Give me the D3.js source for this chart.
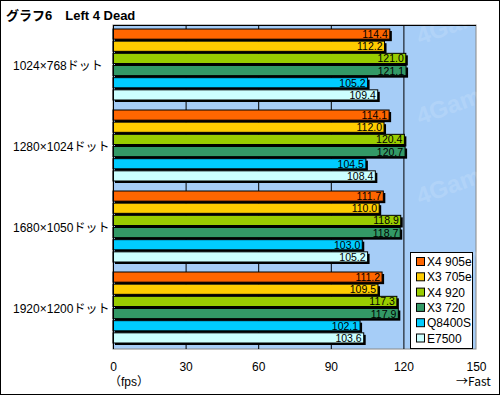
<!DOCTYPE html>
<html lang="ja">
<head>
<meta charset="UTF-8">
<title>グラフ6 Left 4 Dead</title>
<script src="https://d3js.org/d3.v7.min.js"></script>
<style>
  body { margin: 0; background: #fff; }
  svg text { font-family: "Liberation Sans", Arial, sans-serif; }
  svg text.jp { font-family: "Liberation Sans", "Noto Sans CJK JP", sans-serif; }
  svg text.cjk { font-family: "Noto Sans CJK JP", sans-serif; }
</style>
</head>
<body>
<div id="chart"></div>
<script>
// chart data
var resolutions = ["1024×768ドット", "1280×1024ドット", "1680×1050ドット", "1920×1200ドット"];
var cpus = ["X4 905e", "X3 705e", "X4 920", "X3 720", "Q8400S", "E7500"];
var colors = ["#ff6600", "#ffcc00", "#99cc00", "#339966", "#00ccff", "#ccffff"];
var fps = [
  [114.4, 112.2, 121.0, 121.1, 105.2, 109.4],
  [114.1, 112.0, 120.4, 120.7, 104.5, 108.4],
  [111.7, 110.0, 118.9, 118.7, 103.0, 105.2],
  [111.2, 109.5, 117.3, 117.9, 102.1, 103.6]
];
var xTicks = [0, 30, 60, 90, 120, 150];

var W = 500, H = 397;
// plot edges (not named "top", that one is window.top)
var pL = 113, pR = 476, pT = 25, pB = 349;

var svg = d3.select("#chart").append("svg")
  .attr("width", W)
  .attr("height", H);

// white background + outer frame
svg.append("rect")
  .attr("x", 0.5).attr("y", 0.5)
  .attr("width", W - 1).attr("height", H - 3)
  .attr("fill", "#fff").attr("stroke", "#000");

// title
svg.append("text")
  .attr("class", "jp")
  .attr("x", 6).attr("y", 20)
  .attr("font-size", 13).attr("font-weight", "bold")
  .text("グラフ6　Left 4 Dead");

var x = d3.scaleLinear().domain([0, 150]).range([pL, pR]);
var yGroup = d3.scaleBand().domain(resolutions).range([pT, pB]);

// plot background
svg.append("rect")
  .attr("x", pL).attr("y", pT)
  .attr("width", pR - pL).attr("height", pB - pT)
  .attr("fill", "#a6cdf7")
  .attr("stroke", "#888");

// faint watermark
var wm = svg.append("g").attr("opacity", 0.13);
[45, 125, 205, 285].forEach(function(yy) {
  wm.append("text")
    .attr("x", 420).attr("y", yy)
    .attr("font-size", 24).attr("font-weight", "bold")
    .attr("fill", "#ffffff")
    .attr("transform", "rotate(-20,420," + yy + ")")
    .text("4Gam");
});

// grid lines (behind bars)
svg.append("g").selectAll("line")
  .data(xTicks.slice(1, 5))
  .enter().append("line")
  .attr("x1", function(d) { return x(d) + 0.5; })
  .attr("x2", function(d) { return x(d) + 0.5; })
  .attr("y1", pT).attr("y2", pB)
  .attr("stroke", "#000");

// top line of plot
svg.append("line")
  .attr("x1", pL).attr("x2", pR)
  .attr("y1", pT + 0.5).attr("y2", pT + 0.5)
  .attr("stroke", "#000");

// bars
var groups = svg.selectAll("g.grp")
  .data(fps)
  .enter().append("g")
  .attr("class", "grp")
  .attr("transform", function(d, i) { return "translate(0," + yGroup(resolutions[i]) + ")"; });

var yBar = d3.scaleBand().domain(d3.range(cpus.length)).range([4, 77]);
var bh = yBar.bandwidth() - 2;

// shadows
groups.selectAll("rect.shadow")
  .data(function(d) { return d; })
  .enter().append("rect")
  .attr("class", "shadow")
  .attr("x", pL + 2)
  .attr("y", function(d, i) { return yBar(i) + 2; })
  .attr("width", function(d) { return x(d) - pL; })
  .attr("height", bh)
  .attr("fill", "#000");

groups.selectAll("rect.bar")
  .data(function(d) { return d; })
  .enter().append("rect")
  .attr("class", "bar")
  .attr("x", pL)
  .attr("y", function(d, i) { return yBar(i); })
  .attr("width", function(d) { return x(d) - pL; })
  .attr("height", bh)
  .attr("fill", function(d, i) { return colors[i]; })
  .attr("stroke", "#000")
  .attr("stroke-width", 1);

groups.selectAll("text.val")
  .data(function(d) { return d; })
  .enter().append("text")
  .attr("class", "val")
  .attr("x", function(d) { return x(d) - 2; })
  .attr("y", function(d, i) { return yBar(i) + bh / 2 + 4; })
  .attr("text-anchor", "end")
  .attr("font-size", 10.5)
  .text(function(d) { return d.toFixed(1); });

// left axis line
svg.append("line")
  .attr("x1", pL + 0.5).attr("x2", pL + 0.5)
  .attr("y1", pT).attr("y2", pB)
  .attr("stroke", "#000");

// category labels
svg.append("g").selectAll("text")
  .data(resolutions)
  .enter().append("text")
  .attr("class", "jp")
  .attr("x", 13)
  .attr("y", function(d) { return yGroup(d) + yGroup.bandwidth() / 2 + 4; })
  .attr("font-size", 12)
  .text(function(d) { return d; });

// x tick labels
var xAxis = d3.axisBottom(x).tickValues(xTicks).tickSize(0).tickPadding(0);
var gx = svg.append("g")
  .attr("transform", "translate(0,362)")
  .call(xAxis);
gx.select(".domain").remove();
gx.selectAll("text")
  .attr("font-family", "Liberation Sans, Arial, sans-serif")
  .attr("font-size", 12)
  .attr("fill", "#000");

svg.append("text")
  .attr("class", "jp")
  .attr("x", 129).attr("y", 386)
  .attr("text-anchor", "middle")
  .attr("font-size", 12)
  .text("（fps）");

svg.append("text")
  .attr("class", "cjk")
  .attr("x", 456).attr("y", 386)
  .attr("font-size", 12)
  .text("→Fast");

// legend
var lg = svg.append("g").attr("transform", "translate(410,252)");
lg.append("rect")
  .attr("x", 0.5).attr("y", 0.5)
  .attr("width", 62).attr("height", 96)
  .attr("fill", "#fff").attr("stroke", "#000");
var li = lg.selectAll("g.item")
  .data(cpus)
  .enter().append("g")
  .attr("class", "item")
  .attr("transform", function(d, i) { return "translate(0," + (5 + i * 15.3) + ")"; });
li.append("rect")
  .attr("x", 6.5).attr("y", 0.5)
  .attr("width", 8).attr("height", 8)
  .attr("fill", function(d, i) { return colors[i]; })
  .attr("stroke", "#000");
li.append("text")
  .attr("x", 17).attr("y", 9)
  .attr("font-size", 12)
  .text(function(d) { return d; });
</script>
</body>
</html>
